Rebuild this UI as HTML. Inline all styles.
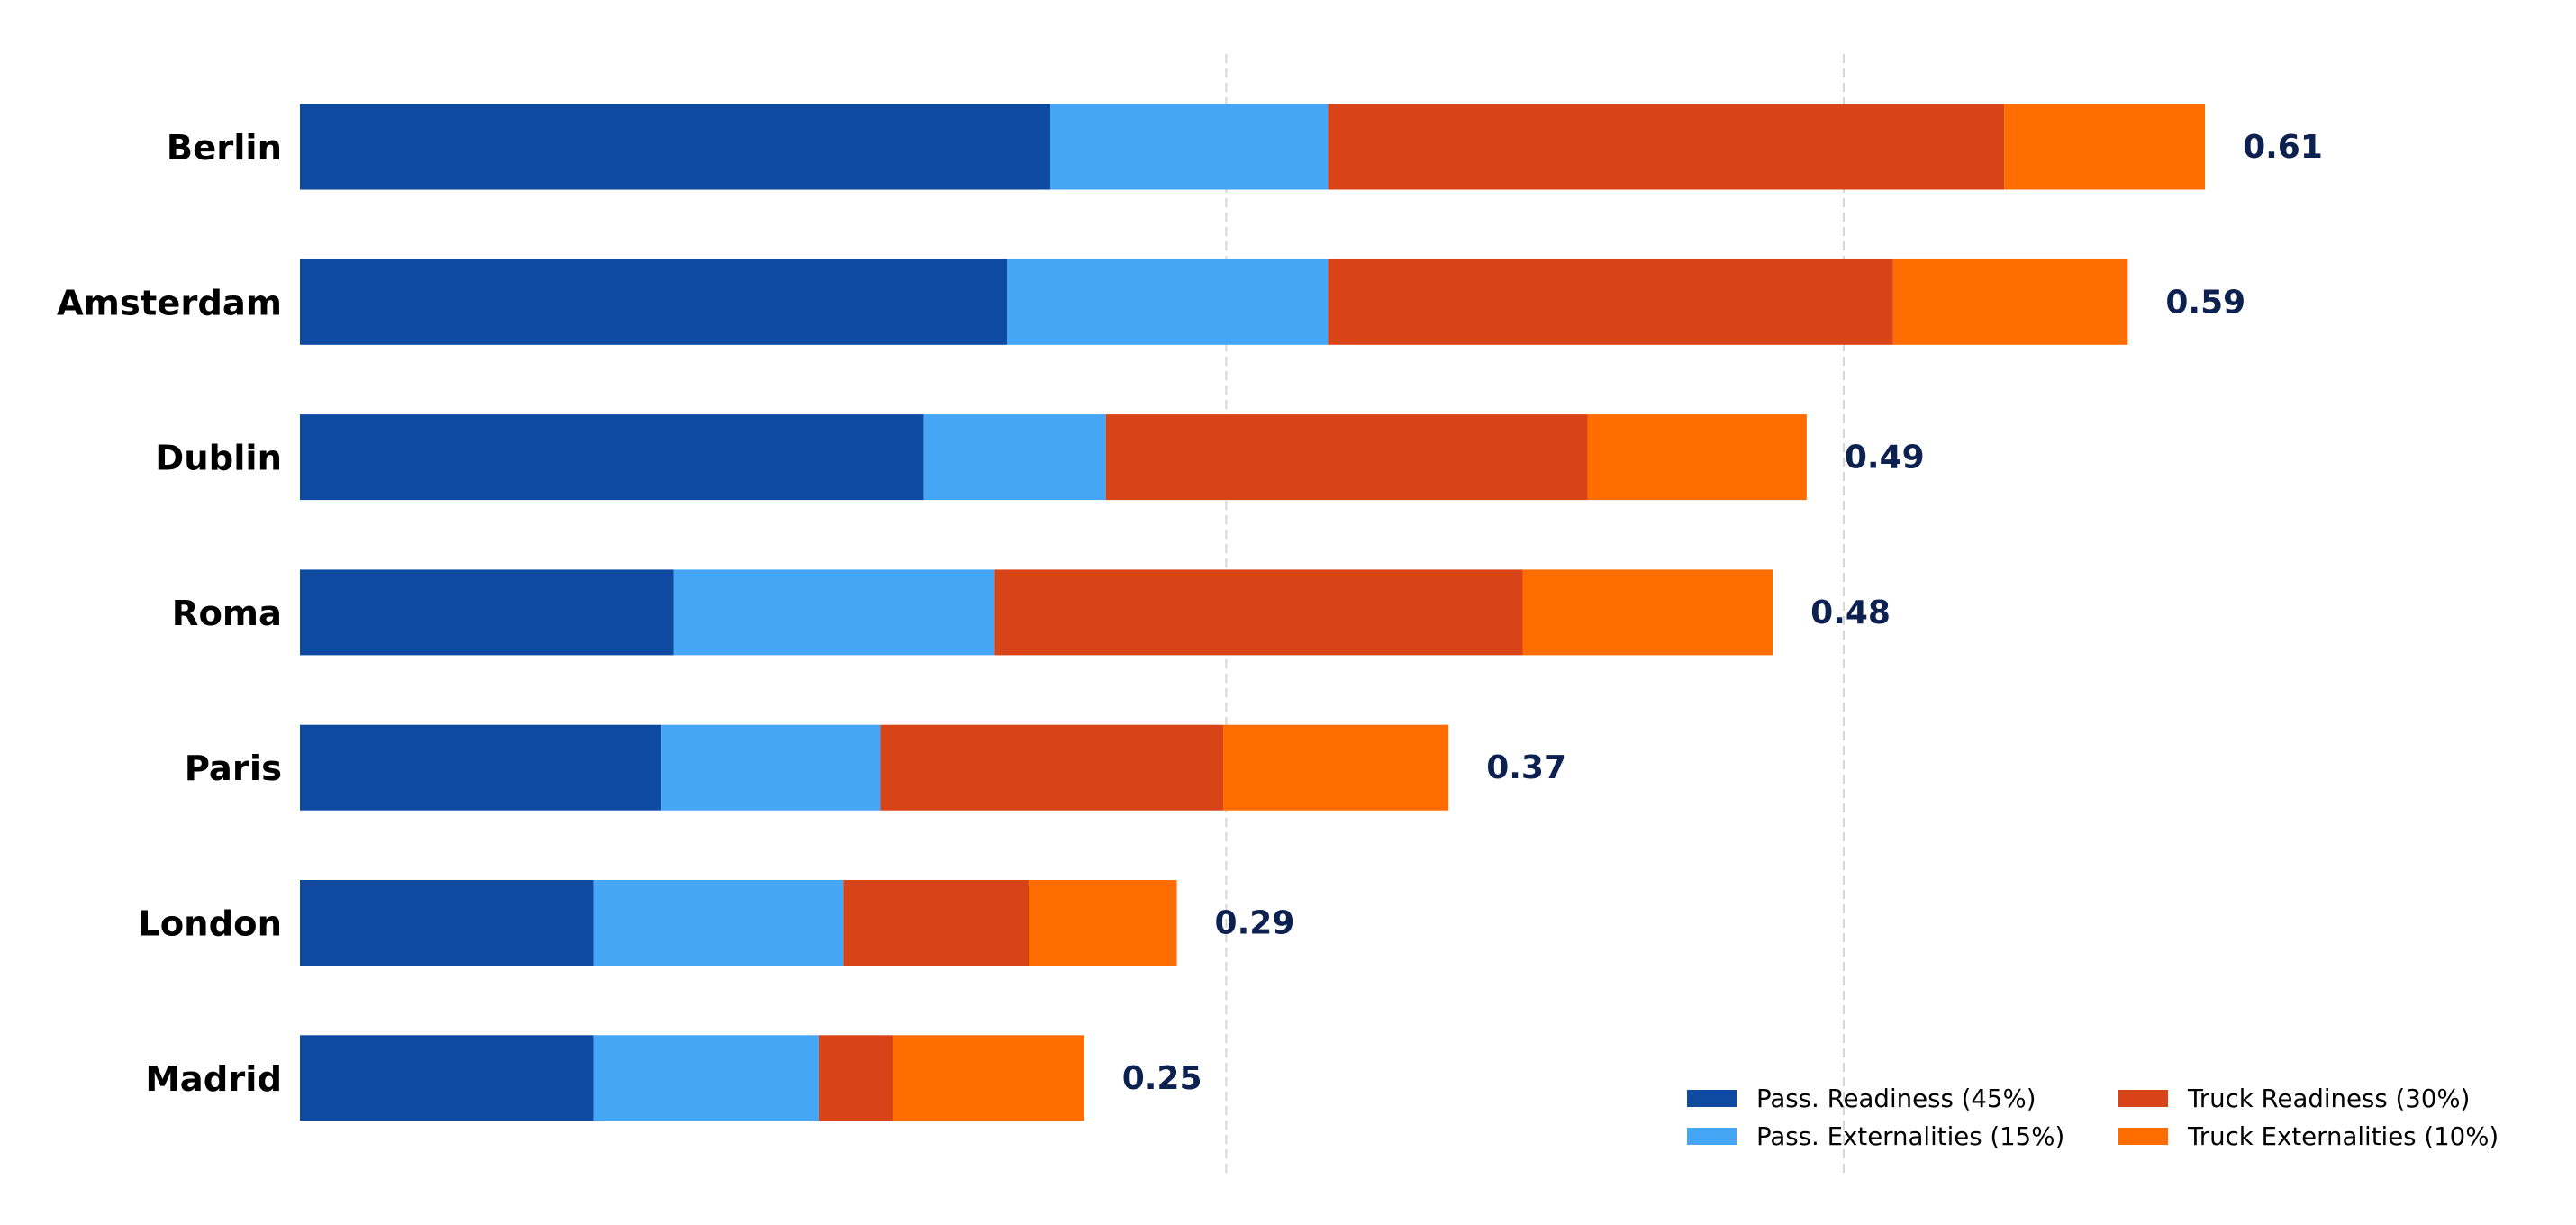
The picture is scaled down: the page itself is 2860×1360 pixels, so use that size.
<!DOCTYPE html>
<html><head><meta charset="utf-8"><style>
html,body{margin:0;padding:0;background:#fff;}
svg{display:block;font-family:"DejaVu Sans","Liberation Sans",sans-serif;}
</style></head><body>
<svg id="chart" width="2860" height="1360" viewBox="0 0 2860 1360" xmlns="http://www.w3.org/2000/svg">
<g id="grid"></g>
<g id="bars"></g>
<g id="labels"></g>
<g id="legend"></g>
</svg>
<script>
const cities = ["Berlin","Amsterdam","Dublin","Roma","Paris","London","Madrid"];
const passReadiness = [0.243,0.229,0.202,0.121,0.117,0.095,0.095];
const passExternalities = [0.090,0.104,0.059,0.104,0.071,0.081,0.073];
const truckReadiness = [0.219,0.183,0.156,0.171,0.111,0.060,0.024];
const truckExternalities = [0.065,0.076,0.071,0.081,0.073,0.048,0.062];
const totalLabels = ["0.61","0.59","0.49","0.48","0.37","0.29","0.25"];
const gridTicks = [0.3,0.5];
const seriesNames = ["Pass. Readiness (45%)","Pass. Externalities (15%)","Truck Readiness (30%)","Truck Externalities (10%)"];

const NS="http://www.w3.org/2000/svg";
const colors=["#0f4aa1","#44a6f5","#d84418","#ff6d00"];
const x0=333, unit=3428;
function xs(v){return x0+v*unit;}
const rowTop=163, rowStep=172.3, barH=95;
function yc(i){return rowTop+i*rowStep;}
function mk(tag,attrs,parent){const e=document.createElementNS(NS,tag);for(const k in attrs)e.setAttribute(k,attrs[k]);parent.appendChild(e);return e;}

const grid=document.getElementById('grid');
gridTicks.forEach(t=>{
  const l=mk('line',{x1:xs(t),x2:xs(t),y1:60,y2:1304,stroke:'#d6d6d6','stroke-width':2,'stroke-dasharray':'10,6'},grid);
  
  
});

const bars=document.getElementById('bars');
const labels=document.getElementById('labels');
const series=[passReadiness,passExternalities,truckReadiness,truckExternalities];
const segNames=['pass-readiness-bar','pass-externalities-bar','truck-readiness-bar','truck-externalities-bar'];
cities.forEach((c,i)=>{
  let acc=0;
  series.forEach((s,k)=>{
    const r=mk('rect',{x:xs(acc),y:yc(i)-barH/2,width:s[i]*unit,height:barH,fill:colors[k]},bars);
    
    
    acc+=s[i];
  });
  const t=mk('text',{x:313,y:yc(i)+14,'text-anchor':'end','font-size':38.5,'font-weight':'bold',fill:'#000'},labels);
  t.textContent=c;
  
  
  const v=mk('text',{x:xs(acc)+42,y:yc(i)+12,'font-size':36,'font-weight':'bold',fill:'#0d2150'},labels);
  v.textContent=totalLabels[i];
  
  
});

const legend=document.getElementById('legend');
const lx=[1873,2352], ly=[1219,1261];
seriesNames.forEach((n,k)=>{
  const col=k<2?0:1,row=k%2;
  const sw=mk('rect',{x:lx[col],y:ly[row]-9,width:55,height:19,fill:colors[k]},legend);
  
  
  const t=mk('text',{x:lx[col]+77,y:ly[row]+10,'font-size':27.6,fill:'#000'},legend);
  t.textContent=n;
  
  
});
</script>
</body></html>
